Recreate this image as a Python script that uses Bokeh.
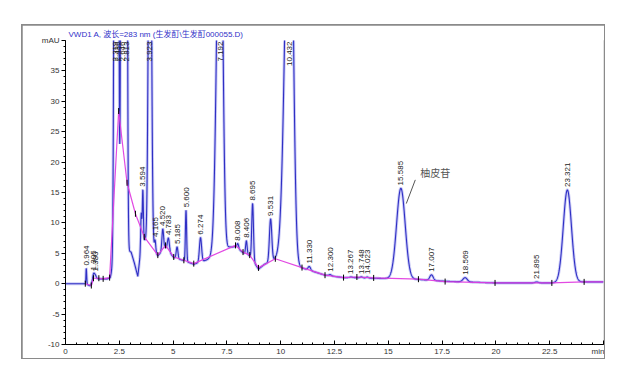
import numpy as np
from bokeh.plotting import figure
from bokeh.models import (ColumnDataSource, LabelSet, Label, Range1d, FixedTicker)
from bokeh.core.properties import value
from bokeh.embed import file_html
from bokeh.resources import INLINE

# ---------------- data ----------------
title_text = "VWD1 A, 波长=283 nm (生发酊\\生发酊000055.D)"

# peak table: retention time (min), height above background (mAU), left / right widths (min)
peak_rt = [0.964, 1.305, 1.380, 2.319, 2.436, 2.646, 2.813, 3.520, 3.594, 3.923,
           4.165, 4.520, 4.783, 5.185, 5.600, 6.274, 7.192, 8.008, 8.406, 8.695,
           9.531, 10.432, 11.330, 12.300, 13.267, 13.748, 14.023, 15.585, 17.007,
           18.569, 21.895, 23.321]
peak_label = ["0.964", "1.305", "1.380", "2.319", "2.436", "2.646", "2.813", "", "3.594",
              "3.923", "4.165", "4.520", "4.783", "5.185", "5.600", "6.274", "7.192",
              "8.008", "8.406", "8.695", "9.531", "10.432", "11.330", "12.300", "13.267",
              "13.748", "14.023", "15.585", "17.007", "18.569", "21.895", "23.321"]
peak_height = [2.6, 0.7, 0.6, 150, 120, 200, 150, 6.0, 9.0, 80,
               1.9, 3.5, 2.1, 1.9, 8.4, 4.0, 70, 0.8, 2.2, 9.3,
               7.0, 75, 0.6, 0.2, 0.1, 0.15, 0.15, 14.9, 0.9,
               0.7, 0.15, 15.2]
peak_sigma_left = [0.015, 0.04, 0.05, 0.05, 0.035, 0.05, 0.05, 0.025, 0.025, 0.065,
                   0.03, 0.04, 0.045, 0.04, 0.028, 0.05, 0.15, 0.04, 0.035, 0.04,
                   0.055, 0.21, 0.06, 0.06, 0.06, 0.05, 0.05, 0.20, 0.08,
                   0.10, 0.08, 0.19]
peak_sigma_right = [0.02, 0.04, 0.05, 0.05, 0.035, 0.05, 0.045, 0.025, 0.025, 0.065,
                    0.03, 0.04, 0.045, 0.04, 0.028, 0.05, 0.11, 0.04, 0.035, 0.04,
                    0.055, 0.14, 0.06, 0.06, 0.06, 0.05, 0.05, 0.20, 0.08,
                    0.10, 0.08, 0.19]

# signal background under the peaks (time, mAU)
bg_t = [0, 0.9, 1.15, 1.3, 1.95, 2.08, 2.5, 2.85, 3.05, 3.2, 3.36, 3.48, 3.66, 4.0, 4.29,
        4.65, 5.03, 5.5, 5.96, 6.55, 6.85, 7.6, 7.9, 8.25, 8.56, 8.97, 9.25, 9.75,
        10.0, 10.99, 12.06, 12.92, 13.54, 14.32, 16.4, 17.64, 19.96, 22.6, 24.1, 25]
bg_v = [0, 0, -0.35, 0.8, 0.8, 1.0, 8.0, 5.5, 5.2, 3.4, 1.2, 5.0, 7.2, 6.0, 4.6,
        6.0, 4.3, 3.8, 3.2, 3.9, 4.4, 6.0, 6.1, 5.1, 4.6, 2.4, 3.2, 4.0,
        4.0, 2.6, 1.4, 1.0, 1.0, 0.9, 0.7, 0.4, 0.13, 0.13, 0.3, 0.3]

# integration baseline (pink) vertices
base_t = [0.92, 1.2, 1.3, 1.55, 1.75, 2.05, 2.47, 2.86, 3.25, 3.66, 4.29, 4.65, 5.03,
          5.5, 5.96, 7.9, 8.25, 8.56, 8.97, 9.75, 10.99, 12.06, 12.92, 13.54, 14.32,
          16.4, 17.64, 19.96, 22.6, 24.1, 25]
base_v = [0.0, -0.3, 0.9, 0.9, 0.8, 1.0, 28.4, 16.6, 11.5, 7.7, 4.7, 6.3, 4.4,
          3.85, 3.3, 6.3, 5.2, 4.7, 2.6, 4.1, 2.65, 1.4, 1.0, 1.1, 0.95,
          0.74, 0.35, 0.13, 0.13, 0.3, 0.3]

x_ticks = [0, 2.5, 5, 7.5, 10, 12.5, 15, 17.5, 20, 22.5, 25]
x_tick_labels = ["0", "2.5", "5", "7.5", "10", "12.5", "15", "17.5", "20", "22.5", "min"]
y_ticks = [-10, -5, 0, 5, 10, 15, 20, 25, 30, 35, 40]
y_tick_labels = ["-10", "-5", "0", "5", "10", "15", "20", "25", "30", "35", "mAU"]

callout_text = "柚皮苷"
callout_peak = 15.585

X_MAX = 25.0
Y_MIN, Y_MAX = -10.0, 40.0

# ---------------- build the trace ----------------
t = np.linspace(0, X_MAX, 6001)


def signal(tt):
    tt = np.asarray(tt, dtype=float)
    out = np.interp(tt, bg_t, bg_v)
    for c, h, sl, sr in zip(peak_rt, peak_height, peak_sigma_left, peak_sigma_right):
        s = np.where(tt < c, sl, sr)
        out = out + h * np.exp(-0.5 * ((tt - c) / s) ** 2)
    return out


trace = signal(t)

FONT = "Liberation Sans"

# ---------------- figure ----------------
p = figure(width=582, height=333, output_backend="svg", toolbar_location=None,
           x_range=Range1d(0, X_MAX), y_range=Range1d(Y_MIN, Y_MAX),
           min_border_left=43, min_border_right=1, min_border_top=15,
           min_border_bottom=13, background_fill_color="white",
           border_fill_color="white", outline_line_color=None,
           title=title_text,
           styles={"margin-left": "22px", "margin-top": "25px",
                   "outline": "2px solid #8a8a8a", "outline-offset": "-1px"})
p.grid.visible = False

p.title.text_font = FONT + ", Noto Sans CJK SC"
p.title.text_font_size = "8px"
p.title.text_font_style = "normal"
p.title.text_color = "#3030c8"
p.title.align = "left"
p.title.offset = 3
p.title.standoff = 4

# axes
p.xaxis.ticker = FixedTicker(ticks=x_ticks, minor_ticks=list(np.arange(0, 25.01, 0.5)))
p.xaxis.major_label_overrides = {k: v for k, v in zip(x_ticks, x_tick_labels)}
p.yaxis.ticker = FixedTicker(ticks=y_ticks, minor_ticks=list(range(-10, 41)))
p.yaxis.major_label_overrides = {k: v for k, v in zip(y_ticks, y_tick_labels)}
for ax in (p.xaxis, p.yaxis):
    ax.axis_line_color = "black"
    ax.major_tick_line_color = "black"
    ax.minor_tick_line_color = "black"
    ax.major_label_text_font = FONT
    ax.major_label_text_font_size = "8px"
    ax.major_label_text_color = "#333333"
p.xaxis.major_tick_in = 4
p.xaxis.major_tick_out = 0
p.xaxis.minor_tick_in = 2
p.xaxis.minor_tick_out = 0
p.xaxis.major_label_standoff = 2
p.yaxis.major_tick_in = 0
p.yaxis.major_tick_out = 4
p.yaxis.minor_tick_in = 0
p.yaxis.minor_tick_out = 2
p.yaxis.major_label_standoff = 2

# trace
p.line(t, trace, line_color="#a8a8f0", line_width=3, line_alpha=0.6)
p.line(t, trace, line_color="#2f2fc4", line_width=1.1)

# integration baseline
p.line(base_t, base_v, line_color="#e040e0", line_width=1.2, line_alpha=0.95)
p.scatter(base_t[:-1], base_v[:-1], marker="dash", angle=np.pi / 2, size=6,
          line_color="black", line_width=1)

# peak labels
lab_x, lab_y, lab_txt, lab_align = [], [], [], []
tips = signal(peak_rt)
for rt, txt, tip in zip(peak_rt, peak_label, tips):
    if not txt:
        continue
    lab_x.append(rt)
    lab_txt.append(txt)
    if tip >= Y_MAX:
        lab_y.append(Y_MAX)
        lab_align.append("right")
    else:
        lab_y.append(float(tip))
        lab_align.append("left")
src_in = ColumnDataSource(dict(x=[x for x, a in zip(lab_x, lab_align) if a == "left"],
                               y=[y for y, a in zip(lab_y, lab_align) if a == "left"],
                               text=[s for s, a in zip(lab_txt, lab_align) if a == "left"]))
src_top = ColumnDataSource(dict(x=[x for x, a in zip(lab_x, lab_align) if a == "right"],
                                y=[y for y, a in zip(lab_y, lab_align) if a == "right"],
                                text=[s for s, a in zip(lab_txt, lab_align) if a == "right"]))
p.add_layout(LabelSet(x="x", y="y", text="text", source=src_in, angle=np.pi / 2,
                      text_align="left", text_baseline="middle", y_offset=3,
                      text_font=value(FONT), text_font_size=value("8px"),
                      text_color="#222222"))
p.add_layout(LabelSet(x="x", y="y", text="text", source=src_top, angle=np.pi / 2,
                      text_align="right", text_baseline="middle", y_offset=-1,
                      text_font=value(FONT), text_font_size=value("8px"),
                      text_color="#222222"))

# callout for naringin
c_tip = float(signal([callout_peak])[0])
p.segment(x0=[callout_peak + 0.25], y0=[c_tip - 2.5], x1=[callout_peak + 0.67],
          y1=[c_tip + 1.4], line_color="#555555", line_width=1)
p.add_layout(Label(x=callout_peak + 0.9, y=c_tip + 2.6, text=callout_text,
                   text_font="Noto Sans CJK SC", text_font_size="10px",
                   text_color="#555555", text_baseline="middle"))

open("out.html", "w").write(file_html(p, INLINE))
